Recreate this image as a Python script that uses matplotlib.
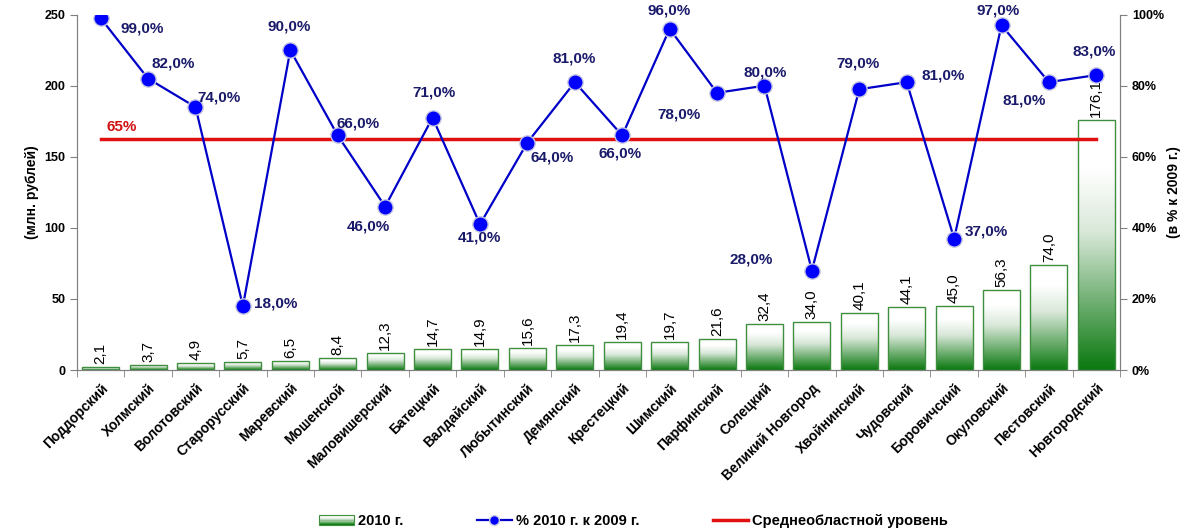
import numpy as np
import matplotlib
matplotlib.use("Agg")
import matplotlib.pyplot as plt
from matplotlib.colors import LinearSegmentedColormap
from matplotlib.lines import Line2D
from matplotlib.patches import Rectangle
from matplotlib.legend_handler import HandlerBase
from matplotlib.ticker import FixedLocator, FuncFormatter

plt.rcParams['font.family'] = ['Liberation Sans', 'DejaVu Sans']

# данные
rayony = ["Поддорский", "Холмский", "Волотовский", "Старорусский", "Маревский",
          "Мошенской", "Маловишерский", "Батецкий", "Валдайский", "Любытинский",
          "Демянский", "Крестецкий", "Шимский", "Парфинский", "Солецкий",
          "Великий Новгород", "Хвойнинский", "Чудовский", "Боровичский",
          "Окуловский", "Пестовский", "Новгородский"]
summa_2010 = [2.1, 3.7, 4.9, 5.7, 6.5, 8.4, 12.3, 14.7, 14.9, 15.6, 17.3,
              19.4, 19.7, 21.6, 32.4, 34.0, 40.1, 44.1, 45.0, 56.3, 74.0, 176.1]
procent_k_2009 = [99, 82, 74, 18, 90, 66, 46, 71, 41, 64, 81, 66, 96, 78, 80,
                  28, 79, 81, 37, 97, 81, 83]
sredniy_uroven = 65

# смещения подписей процентов (в пикселях)
posun = [(42, -10), (25, 15), (24, 10), (33, 3), (-1, 24), (20, 12), (-17, -20),
         (1, 25), (-1, -13), (25, -15), (-1, 24), (-2, -18), (-1, 18), (-38, -22),
         (1, 13), (-61, 11), (-1, 26), (36, 7), (32, 7), (-3, 15), (-25, -18),
         (-2, 24)]

zelena = LinearSegmentedColormap.from_list(
    "zel", [(0, "#0a780f"), (0.55, "#d9e8d9"), (0.8, "#ffffff"), (1, "#ffffff")])

fig = plt.figure(figsize=(11.84, 5.32), dpi=100)
ax = fig.add_axes([0.065, 0.3045, 0.881, 0.668])
ax2 = ax.twinx()

x = np.arange(len(rayony))
sirka = 0.78
grad = np.linspace(0, 1, 256).reshape(-1, 1)
for xi, h in zip(x, summa_2010):
    ax.imshow(grad, extent=[xi - sirka / 2, xi + sirka / 2, 0, h], origin="lower",
              cmap=zelena, aspect="auto", zorder=2)
ax.bar(x, summa_2010, width=sirka, facecolor="none", edgecolor="#3f8f3f",
       linewidth=1, zorder=3)
for xi, h in zip(x, summa_2010):
    ax.annotate(f"{h:.1f}".replace(".", ","), (xi, h), xytext=(0, 3),
                textcoords="offset pixels", rotation=90, ha="center", va="bottom",
                fontsize=11, zorder=4)

ax.set_xlim(-0.5, len(rayony) - 0.5)
ax.set_ylim(0, 250)
ax.set_yticks(range(0, 251, 50))
ax.set_ylabel("(млн. рублей)", fontsize=10, fontweight="bold", labelpad=4)

ax.set_xticks(x)
ax.set_xticklabels(rayony, rotation=45, ha="right", rotation_mode="anchor",
                   fontsize=10, fontweight="bold")
ax.tick_params(axis="x", length=0, pad=8)
ax.xaxis.set_minor_locator(FixedLocator(np.arange(-0.5, len(rayony), 1)))
ax.tick_params(axis="x", which="minor", length=5, direction="out", color="#808080")
ax.tick_params(axis="y", length=5, direction="out", labelsize=9, color="#808080")
for t in ax.get_yticklabels():
    t.set_fontweight("bold")

# линия процентов
ax2.plot(x, procent_k_2009, color="#0000c8", linewidth=1.6, marker="o",
         markersize=11, markerfacecolor="#0000ff", markeredgecolor="#c8c8e0",
         markeredgewidth=1, zorder=5)
ax2.plot([0, len(rayony) - 1], [sredniy_uroven, sredniy_uroven], color="#e01010",
         linewidth=2.5, zorder=4)
ax2.text(0.12, 68.5, f"{sredniy_uroven}%", color="#d01010", fontsize=11,
         fontweight="bold", ha="left", va="center")
for xi, p, (dx, dy) in zip(x, procent_k_2009, posun):
    ax2.annotate(f"{p:.1f}%".replace(".", ","), (xi, p), xytext=(dx, dy),
                 textcoords="offset pixels", ha="center", va="center",
                 fontsize=11, fontweight="bold", color="#1a1a6a", zorder=6)

ax2.set_ylim(0, 100)
ax2.set_yticks(range(0, 101, 20))
ax2.yaxis.set_major_formatter(FuncFormatter(lambda v, _: f"{v:.0f}%"))
ax2.tick_params(axis="y", length=5, direction="out", labelsize=9, color="#808080")
for t in ax2.get_yticklabels():
    t.set_fontweight("bold")
ax2.set_ylabel("(в % к 2009 г.)", fontsize=10, fontweight="bold", labelpad=2)

for a in (ax, ax2):
    a.spines["top"].set_visible(False)
    for s in ("left", "right", "bottom"):
        a.spines[s].set_color("#808080")


class GradHandler(HandlerBase):
    def create_artists(self, legend, orig, xd, yd, w, h, fontsize, trans):
        kusy = []
        n = 8
        for i in range(n):
            c = zelena(i / (n - 1) * 0.85)
            kusy.append(Rectangle((xd, yd + h * i / n), w, h / n + 0.3,
                                  facecolor=c, edgecolor="none", transform=trans))
        kusy.append(Rectangle((xd, yd), w, h, facecolor="none",
                              edgecolor="#3f8f3f", linewidth=0.8, transform=trans))
        return kusy


h_bar = Rectangle((0, 0), 1, 1)
h_line = Line2D([], [], color="#0000c8", linewidth=1.6, marker="o", markersize=7,
                markerfacecolor="#0000ff", markeredgecolor="#c8c8e0")
h_red = Line2D([], [], color="#e01010", linewidth=2.5)
fig.legend([h_bar, h_line, h_red],
           ["2010 г.", "% 2010 г. к 2009 г.", "Среднеобластной уровень"],
           handler_map={h_bar: GradHandler()}, loc="center", ncol=3,
           bbox_to_anchor=(0.535, 0.02), frameon=False, columnspacing=5,
           handlelength=2.4, handletextpad=0.3,
           prop={"weight": "bold", "size": 10.5})

fig.savefig("out.png", dpi=100)
